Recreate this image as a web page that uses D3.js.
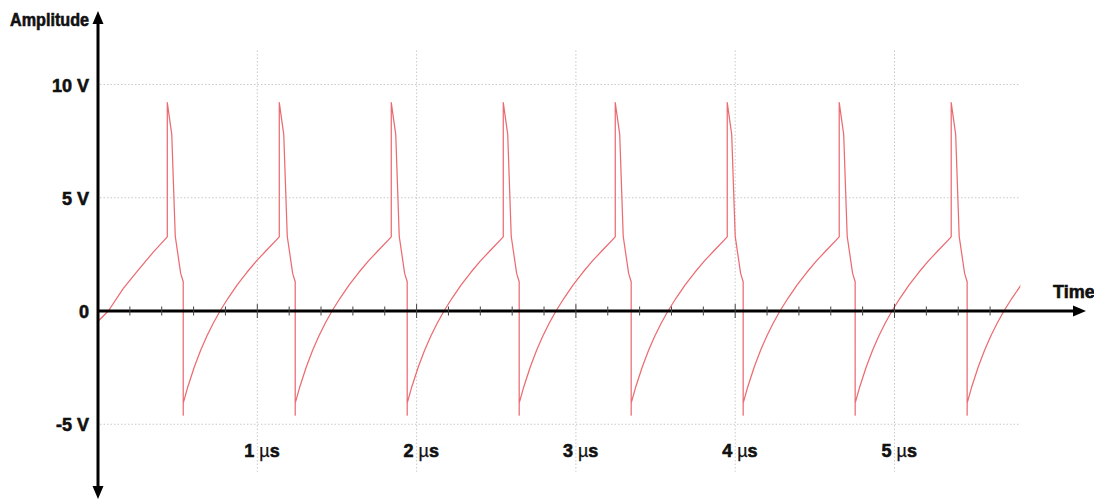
<!DOCTYPE html>
<html>
<head>
<meta charset="utf-8">
<script src="https://cdn.jsdelivr.net/npm/d3@7"></script>
<style>
  body { margin: 0; background: #fff; }
  svg { display: block; }
  .lbl { font-family: "Liberation Sans Narrow", "Liberation Sans", sans-serif; font-weight: bold; font-size: 18px; fill: #111; stroke: #111; stroke-width: 0.6px; }
  .unit { font-weight: normal; stroke-width: 0.25px; }
  .grid { stroke: #c9c9c9; stroke-width: 1; stroke-dasharray: 1.5,2; }
</style>
</head>
<body>
<svg id="chart" width="1094" height="500"></svg>
<script>
// y axis labels
const yTicks = [10, 5, 0, -5];
const yTickLabels = ["10 V", "5 V", "0", "-5 V"];

// x axis labels (microseconds)
const xTicks = [1, 2, 3, 4, 5];
const xTickLabels = ["1", "2", "3", "4", "5"];
const xUnit = "\u00b5s";

// start of trace, before the first spike (us, V)
const leadT = [0, 0.065, 0.159, 0.264, 0.347, 0.435];
const leadV = [-0.45, 0, 1.0, 1.9, 2.6, 3.27];

// times of each spike (us)
const spikeTimes = [0.435, 1.138, 1.841, 2.544, 3.247, 3.950, 4.653, 5.356];

// shape of one cycle, measured from its spike (us after spike, V)
const cycleT = [0, 0, 0.028, 0.05, 0.084, 0.1, 0.1, 0.1, 0.13, 0.17, 0.21, 0.25, 0.29, 0.331, 0.38, 0.44, 0.50, 0.56, 0.62];
const cycleV = [3.27, 9.2, 7.8, 3.3, 1.66, 1.29, -4.6, -4.07, -3.32, -2.46, -1.72, -1.08, -0.52, 0, 0.55, 1.16, 1.71, 2.21, 2.66];

const traceEnd = 5.79;

const svg = d3.select("#chart");

let x = d3.scaleLinear().domain([0, 5]).range([98, 894.5]);
let y = d3.scaleLinear().domain([-5, 10]).range([424.25, 84.5]);

// grid
let grid = svg.append("g");
grid.selectAll(".hg")
    .data(yTicks.filter(d => d != 0))
    .enter().append("line")
    .attr("class", "grid")
    .attr("x1", x(0) + 2).attr("x2", x(traceEnd))
    .attr("y1", d => y(d)).attr("y2", d => y(d));
grid.selectAll(".vg")
    .data(xTicks)
    .enter().append("line")
    .attr("class", "grid")
    .attr("x1", d => x(d)).attr("x2", d => x(d))
    .attr("y1", y(11.5)).attr("y2", y(-7.1));

// trace points
let points = leadT.map((t, i) => [t, leadV[i]]);
spikeTimes.forEach(function (s) {
    cycleT.forEach(function (t, i) {
        points.push([s + t, cycleV[i]]);
    });
});

svg.append("clipPath").attr("id", "clip")
    .append("rect")
    .attr("x", x(0)).attr("y", 0)
    .attr("width", x(traceEnd) - x(0)).attr("height", 500);

let line = d3.line()
    .x(d => x(d[0]))
    .y(d => y(d[1]));

svg.append("path")
    .datum(points)
    .attr("clip-path", "url(#clip)")
    .attr("fill", "none")
    .attr("stroke", "#ec6b72")
    .attr("stroke-width", 1.25)
    .attr("stroke-linejoin", "round")
    .attr("d", line);

// x axis line with arrow
let x0 = x(0), y0 = y(0);
svg.append("line")
    .attr("x1", x0 - 1).attr("x2", 1078)
    .attr("y1", y0).attr("y2", y0)
    .attr("stroke", "#000").attr("stroke-width", 3);
svg.append("path")
    .attr("d", "M1086," + y0 + "L1073," + (y0 - 5.5) + "L1073," + (y0 + 5.5) + "Z")
    .attr("fill", "#000");

// y axis line with arrows
svg.append("line")
    .attr("x1", x0).attr("x2", x0)
    .attr("y1", 20).attr("y2", 490)
    .attr("stroke", "#000").attr("stroke-width", 3);
svg.append("path")
    .attr("d", "M" + x0 + ",11L" + (x0 - 5.5) + ",24L" + (x0 + 5.5) + ",24Z")
    .attr("fill", "#000");
svg.append("path")
    .attr("d", "M" + x0 + ",499L" + (x0 - 5.5) + ",486L" + (x0 + 5.5) + ",486Z")
    .attr("fill", "#000");

// small ticks on the time axis
let minor = d3.range(0.2, 5.61, 0.2);
svg.append("g").selectAll("line")
    .data(minor)
    .enter().append("line")
    .attr("x1", d => x(d)).attr("x2", d => x(d))
    .attr("y1", d => Math.abs(d - Math.round(d)) < 0.01 ? y0 - 7 : y0 - 4.5)
    .attr("y2", d => Math.abs(d - Math.round(d)) < 0.01 ? y0 + 7 : y0 + 4.5)
    .attr("stroke", "#444").attr("stroke-width", 1);

// labels
svg.append("g").selectAll("text")
    .data(yTicks)
    .enter().append("text")
    .attr("class", "lbl")
    .attr("text-anchor", "end")
    .attr("x", 89)
    .attr("y", d => y(d) + 7)
    .text((d, i) => yTickLabels[i]);

let xl = svg.append("g").selectAll("g")
    .data(xTicks)
    .enter().append("g");
xl.append("text")
    .attr("class", "lbl")
    .attr("text-anchor", "end")
    .attr("x", d => x(d) - 3)
    .attr("y", 457)
    .text((d, i) => xTickLabels[i]);
let ut = xl.append("text")
    .attr("class", "lbl")
    .attr("x", d => x(d) + 2)
    .attr("y", 457);
ut.append("tspan").attr("class", "unit").text(xUnit.charAt(0));
ut.append("tspan").text(xUnit.charAt(1));

svg.append("text")
    .attr("class", "lbl")
    .attr("x", 10).attr("y", 26)
    .attr("textLength", 79).attr("lengthAdjust", "spacingAndGlyphs")
    .text("Amplitude");

svg.append("text")
    .attr("class", "lbl")
    .attr("x", 1053).attr("y", 298)
    .text("Time");
</script>
</body>
</html>
